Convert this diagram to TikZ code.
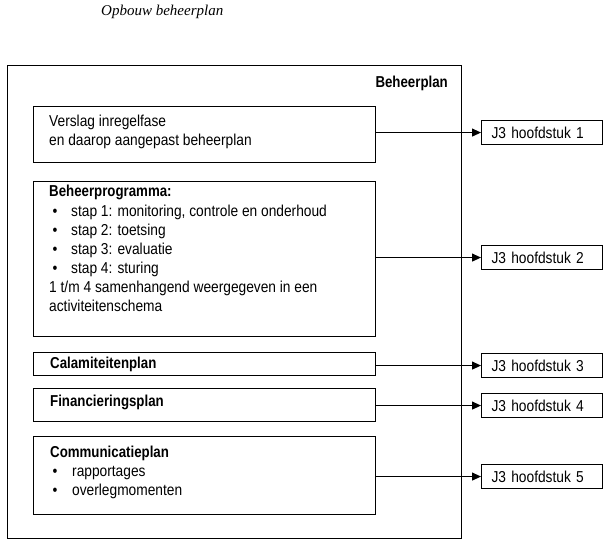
\documentclass[tikz,border=0pt]{standalone}
\usepackage{fontspec}
\setmainfont{Liberation Sans}[FakeStretch=0.87,BoldFeatures={FakeStretch=0.84}]
\newfontfamily\titlefont{Liberation Serif}
\usetikzlibrary{arrows.meta}
\begin{document}
\begin{tikzpicture}[x=1pt,y=-1pt,
  frame/.style={draw, line width=1.1pt, inner sep=0pt, anchor=north west},
  txt/.style={anchor=base west, inner sep=0pt, font=\fontsize{15.8}{18}\selectfont},
  btxt/.style={anchor=base west, inner sep=0pt, font=\fontsize{15.8}{18}\selectfont\bfseries},
  bul/.style={anchor=base, inner sep=0pt, font=\fontsize{15.8}{18}\selectfont},
  plan/.style={frame, minimum width=342pt},
  jbox/.style={frame, minimum height=24pt, text width=101pt, inner xsep=10pt, inner ysep=0pt, align=left, font=\fontsize{15.8}{18}\selectfont},
  arr/.style={line width=1.1pt, -{Triangle[length=9pt,width=8pt]}}]
\useasboundingbox (0,0) rectangle (611,548);
% title
\node[anchor=base west, inner sep=0pt, font=\titlefont\itshape\fontsize{15}{17}\selectfont] (title) at (101,16) {Opbouw beheerplan};
% outer frame
\node[frame, minimum width=454pt, minimum height=473pt] (bp) at (7,65) {};
\node[btxt, anchor=base east] (bpt) at (448,88) {Beheerplan};
% plan boxes
\node[plan, minimum height=56pt] (b1) at (33,106) {};
\node[plan, minimum height=155pt] (b2) at (33,181) {};
\node[plan, minimum height=23pt] (b3) at (33,352) {};
\node[plan, minimum height=33pt] (b4) at (33,388) {};
\node[plan, minimum height=78pt] (b5) at (33,436) {};
% texts box 1
\node[txt] (t11) at (49,127) {Verslag inregelfase};
\node[txt] (t12) at (49,146) {en daarop aangepast beheerplan};
% texts box 2
\node[btxt] (t20) at (49,197) {Beheerprogramma:};
\node[bul] (u21) at (55,217) {•};
\node[txt] (t21) at (71,217) {stap 1: monitoring, controle en onderhoud};
\node[bul] (u22) at (55,236) {•};
\node[txt] (t22) at (71,236) {stap 2: toetsing};
\node[bul] (u23) at (55,255) {•};
\node[txt] (t23) at (71,255) {stap 3: evaluatie};
\node[bul] (u24) at (55,274) {•};
\node[txt] (t24) at (71,274) {stap 4: sturing};
\node[txt] (t25) at (49,293) {1 t/m 4 samenhangend weergegeven in een};
\node[txt] (t26) at (49,312) {activiteitenschema};
% box 3, 4
\node[btxt] (t30) at (50,368) {Calamiteitenplan};
\node[btxt] (t40) at (50,406) {Financieringsplan};
% box 5
\node[btxt] (t50) at (50,457) {Communicatieplan};
\node[bul] (u51) at (55,476) {•};
\node[txt] (t51) at (72,476) {rapportages};
\node[bul] (u52) at (55,495) {•};
\node[txt] (t52) at (72,495) {overlegmomenten};
% chapter boxes
\node[jbox] (j1) at (481,120) {J3 hoofdstuk 1};
\node[jbox] (j2) at (481,245) {J3 hoofdstuk 2};
\node[jbox] (j3) at (481,353) {J3 hoofdstuk 3};
\node[jbox] (j4) at (481,393) {J3 hoofdstuk 4};
\node[jbox] (j5) at (481,464) {J3 hoofdstuk 5};
% arrows
\draw[arr] (b1.east |- j1.west) -- (j1.west);
\draw[arr] (b2.east |- j2.west) -- (j2.west);
\draw[arr] (b3.east |- j3.west) -- (j3.west);
\draw[arr] (b4.east |- j4.west) -- (j4.west);
\draw[arr] (b5.east |- j5.west) -- (j5.west);
\end{tikzpicture}
\end{document}
